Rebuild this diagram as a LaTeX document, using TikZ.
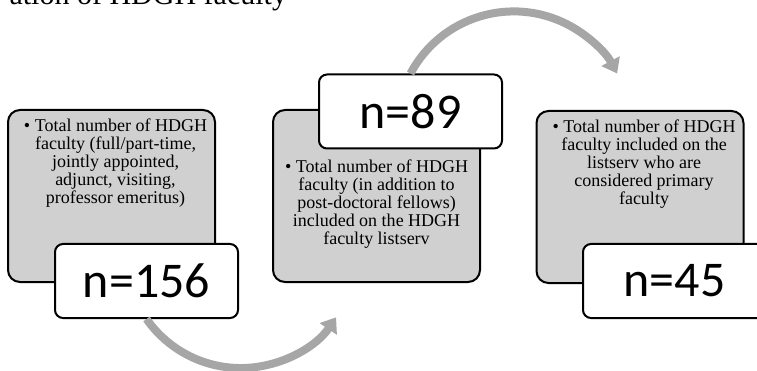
\documentclass[tikz,border=0pt]{standalone}
\usepackage{fontspec}
\usepackage{tikz}
\usetikzlibrary{arrows.meta, positioning}
\setmainfont{Liberation Serif}
\newfontfamily\countfont{Carlito}
\definecolor{boxgray}{HTML}{D0D0D0}
\definecolor{arcgray}{HTML}{A6A6A6}

\begin{document}
\begin{tikzpicture}[x=1pt, y=-1pt, line width=2pt,
  infobox/.style={draw, fill=boxgray, rounded corners=12pt, minimum width=207pt, minimum height=172pt},
  countbox/.style={draw, fill=white, rounded corners=8pt, minimum width=183pt, minimum height=74pt, font=\countfont\fontsize{50}{50}\selectfont},
  infotext/.style={align=center, inner sep=0pt, font=\fontsize{18}{18}\selectfont},
  flowarc/.style={arcgray, line width=8pt, -{Triangle[width=20pt, length=14pt]}}]
  \useasboundingbox (0,0) rectangle (757,371);

  % Titel (oben abgeschnitten)
  \node[anchor=base east, inner sep=0pt, font=\fontsize{30}{30}\selectfont] (title) at (288,5) {ation of HDGH faculty};

  % Stufe 1
  \node[infobox] (b1) at (111.5,196) {};
  \node[infotext, below=9pt of b1.north, xshift=4pt] (t1) {• Total number of HDGH\\faculty (full/part-time,\\jointly appointed,\\adjunct, visiting,\\professor emeritus)};
  \node[countbox] (n156) at (146.5,281) {n=156};

  % Stufe 2
  \node[infobox] (b2) at (376.5,196) {};
  \node[countbox] (n89) at (410.5,111.5) {n=89};
  \node[infotext, below=9pt of n89.south, xshift=-34pt] (t2) {• Total number of HDGH\\faculty (in addition to\\post-doctoral fellows)\\included on the HDGH\\faculty listserv};

  % Stufe 3
  \node[infobox] (b3) at (640,197) {};
  \node[infotext, below=9pt of b3.north, xshift=4pt] (t3) {• Total number of HDGH\\faculty included on the\\listserv who are\\considered primary\\faculty};
  \node[countbox] (n45) at (674.5,281) {n=45};

  % Boegen
  \draw[flowarc] (n156.south) arc[start angle=145, end angle=34, radius=115];
  \draw[flowarc] (n89.north) arc[start angle=208, end angle=332, radius=117];
\end{tikzpicture}
\end{document}
